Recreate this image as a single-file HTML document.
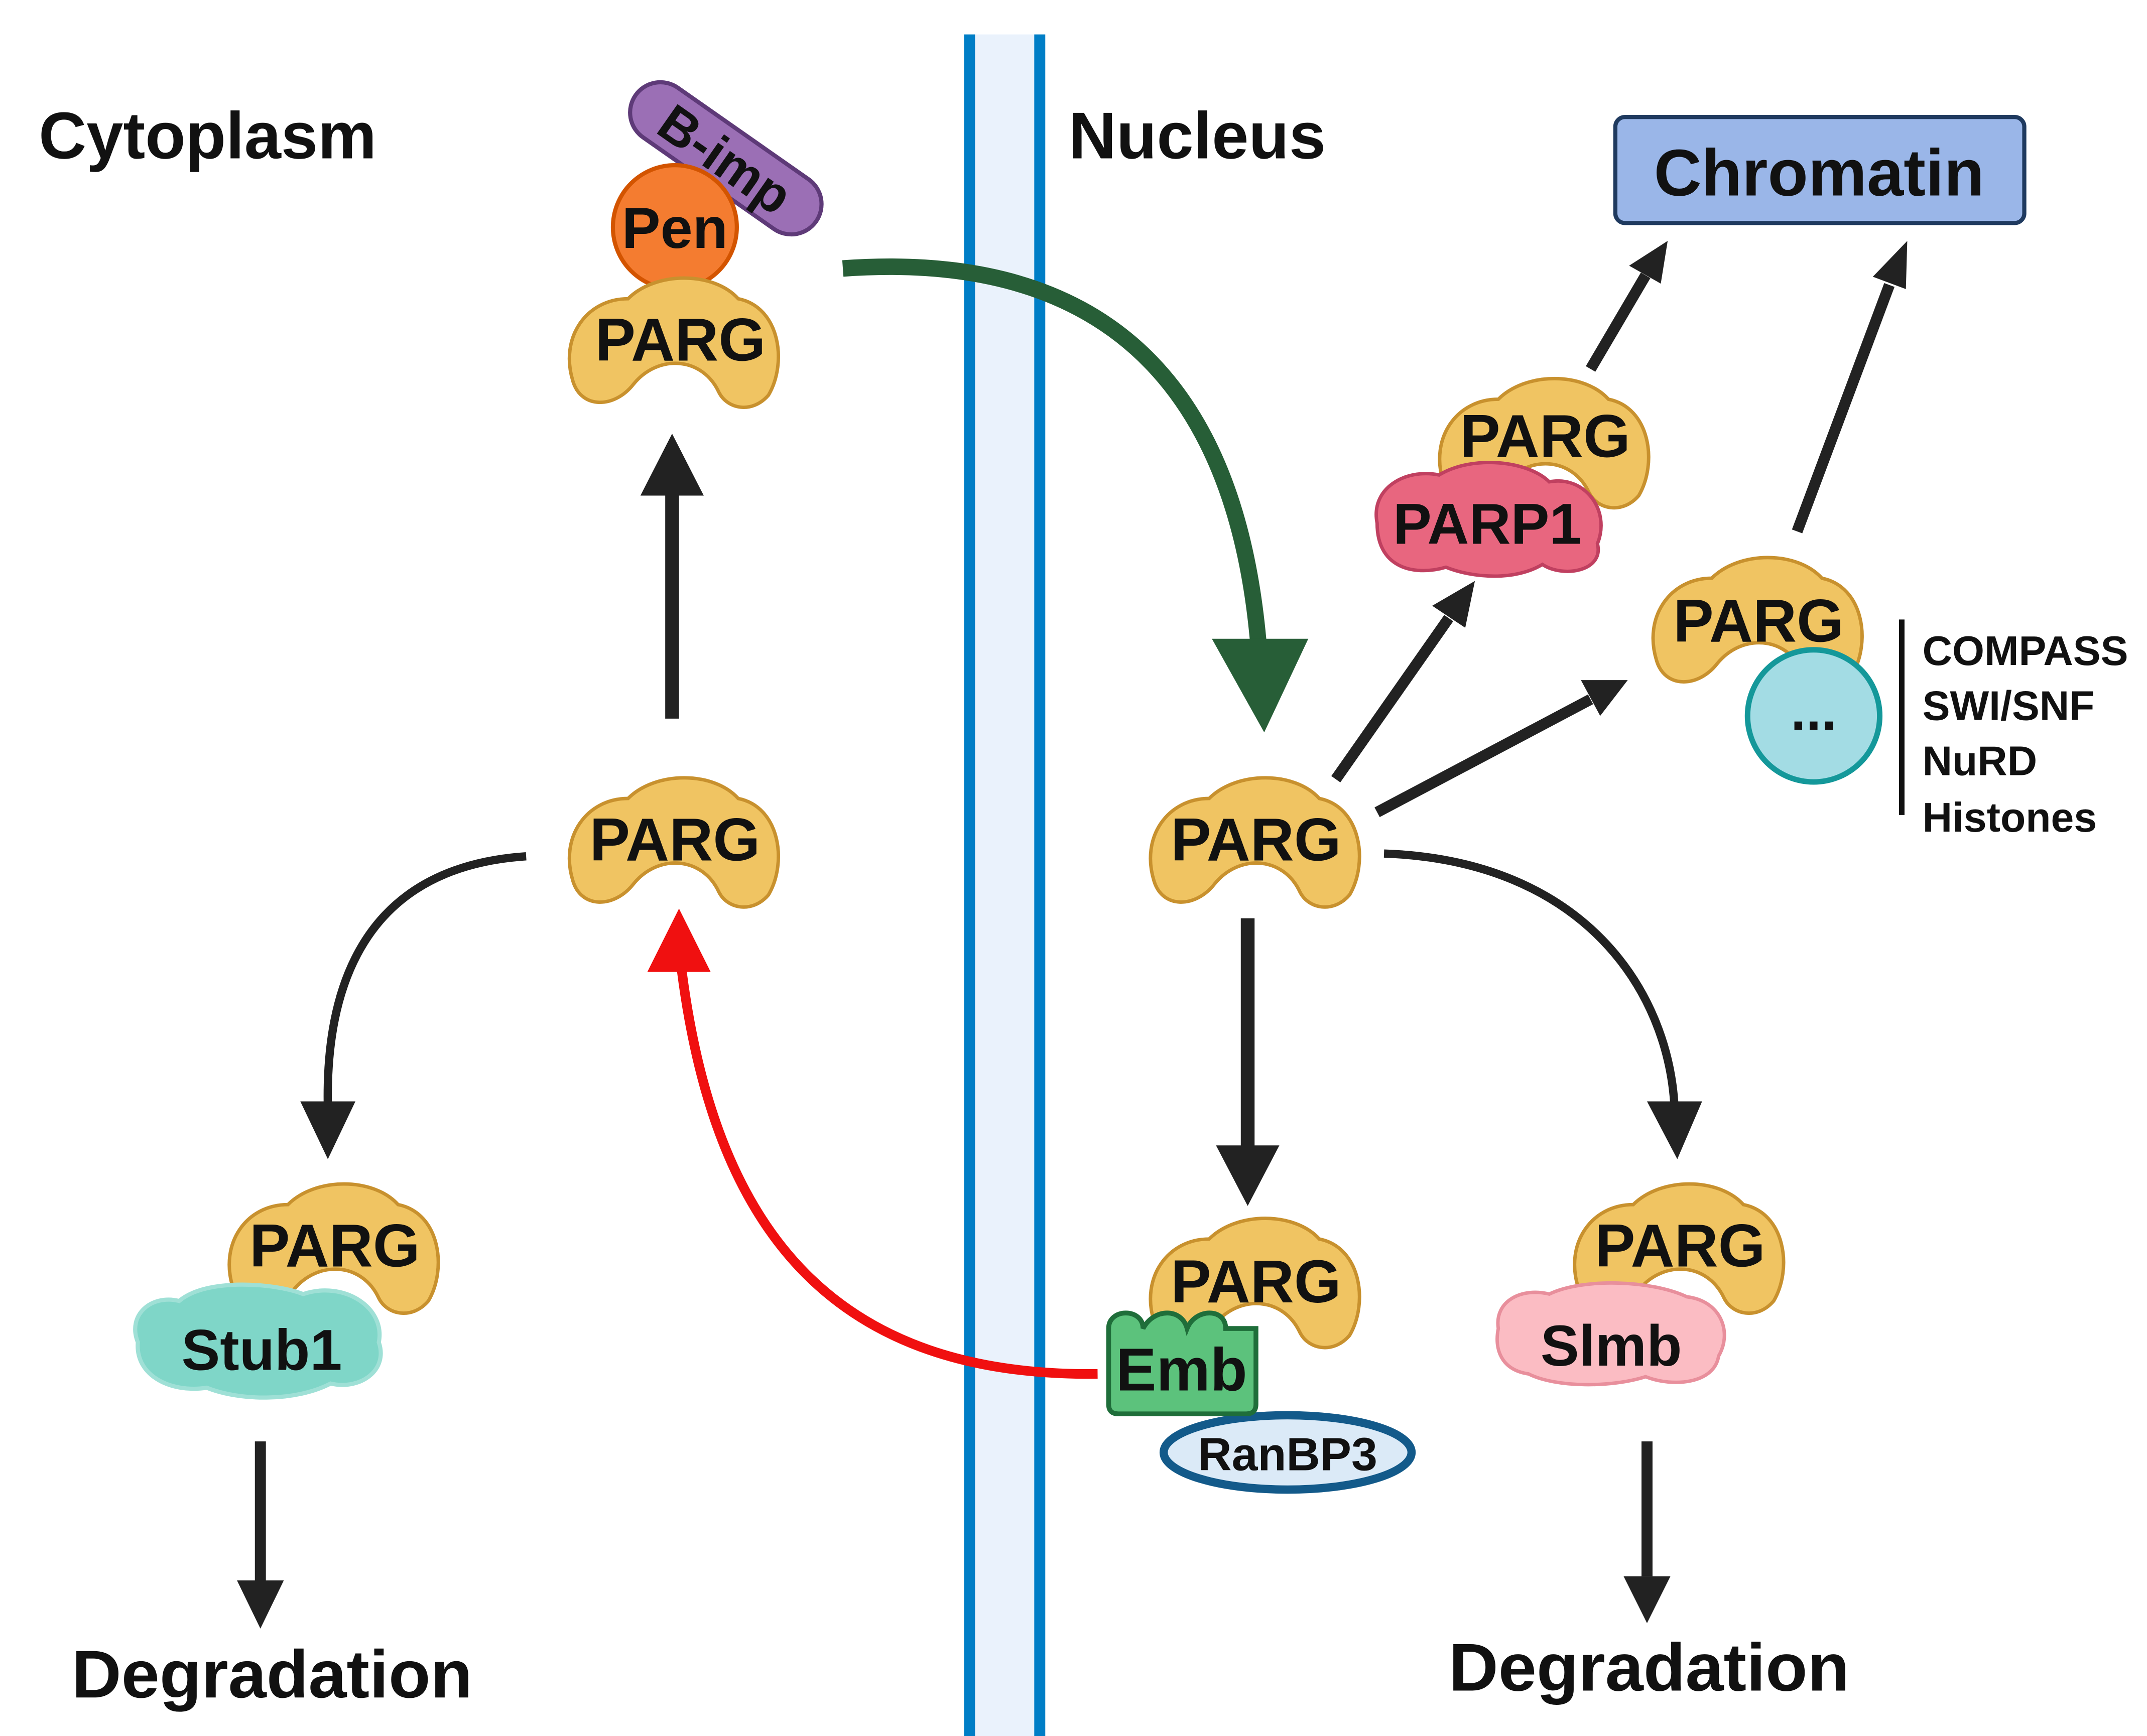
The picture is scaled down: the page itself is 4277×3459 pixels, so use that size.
<!DOCTYPE html>
<html><head><meta charset="utf-8"><style>
html,body{margin:0;padding:0;background:#fff;}
svg{display:block;}
text{font-family:"Liberation Sans",sans-serif;font-weight:bold;fill:#111;}
</style></head><body>
<svg width="4277" height="3459" viewBox="0 0 1559 1261" xmlns="http://www.w3.org/2000/svg">
<defs>
<path id="parg" d="M-72,32 C-82,0 -62,-28 -32,-28 C-12,-48 30,-48 48,-28 C78,-22 84,18 70,42 C58,56 40,52 34,40 C22,14 -10,12 -28,34 C-42,52 -66,52 -72,32 Z"/>
</defs>
<rect x="704" y="25" width="51" height="1236" fill="#eaf2fc"/>
<rect x="700" y="25" width="8" height="1236" fill="#007ec6"/>
<rect x="751" y="25" width="8" height="1236" fill="#007ec6"/>

<text x="28" y="115" font-size="48">Cytoplasm</text>
<text x="776" y="115" font-size="48">Nucleus</text>
<rect x="1173" y="85" width="297" height="77" rx="7" fill="#9ab6e8" stroke="#1f3a5f" stroke-width="3"/>
<text x="1321" y="142" font-size="48" text-anchor="middle">Chromatin</text>

<g transform="translate(527,115) rotate(35)">
<rect x="-80" y="-22" width="160" height="44" rx="22" fill="#9b6fb5" stroke="#5e3a78" stroke-width="3"/>
<text x="0" y="14" font-size="38" text-anchor="middle">B-imp</text>
</g>
<circle cx="490" cy="165" r="45" fill="#f47c30" stroke="#d35400" stroke-width="3"/>
<text x="490" y="180" font-size="42" text-anchor="middle">Pen</text>

<g fill="#222" stroke="#222">
<line x1="488" y1="522" x2="488" y2="355" stroke-width="10"/>
<polygon points="465,360 511,360 488,315" stroke="none"/>
<path d="M382,622 C262,630 236,720 238,805" fill="none" stroke-width="6"/>
<polygon points="218,800 258,800 238,842" stroke="none"/>
<line x1="906" y1="667" x2="906" y2="835" stroke-width="10"/>
<polygon points="883,832 929,832 906,876" stroke="none"/>
<path d="M1005,620 C1150,625 1212,720 1216,805" fill="none" stroke-width="6"/>
<polygon points="1196,800 1236,800 1218,842" stroke="none"/>
<line x1="189" y1="1047" x2="189" y2="1148" stroke-width="8"/>
<polygon points="172,1148 206,1148 189,1183" stroke="none"/>
<line x1="1196" y1="1047" x2="1196" y2="1145" stroke-width="8"/>
<polygon points="1179,1145 1213,1145 1196,1179" stroke="none"/>
<line x1="970" y1="566" x2="1052" y2="449" stroke-width="8"/>
<polygon points="1040,440 1064,456 1071,422" stroke="none"/>
<line x1="1000" y1="590" x2="1155" y2="508" stroke-width="8"/>
<polygon points="1148,494 1162,520 1182,494" stroke="none"/>
<line x1="1155" y1="268" x2="1195" y2="200" stroke-width="8"/>
<polygon points="1183,193 1206,206 1211,175" stroke="none"/>
<line x1="1305" y1="386" x2="1372" y2="207" stroke-width="8"/>
<polygon points="1360,201 1384,210 1385,175" stroke="none"/>
</g>
<path d="M797,998 C610,1000 520,900 495,705" fill="none" stroke="#f01010" stroke-width="7"/>
<polygon points="470,706 516,706 493,660" fill="#f01010"/>
<path d="M612,195 C820,180 900,300 914,470" fill="none" stroke="#275e37" stroke-width="12"/>
<polygon points="880,464 950,464 918,532" fill="#275e37"/>

<g fill="#f0c462" stroke="#c8912e" stroke-width="2.5">
<use href="#parg" transform="translate(488,245)"/>
<use href="#parg" transform="translate(488,608)"/>
<use href="#parg" transform="translate(910,608)"/>
<use href="#parg" transform="translate(1120,318)"/>
<use href="#parg" transform="translate(1275,448)"/>
<use href="#parg" transform="translate(241,903)"/>
<use href="#parg" transform="translate(910,928)"/>
<use href="#parg" transform="translate(1218,903)"/>
</g>
<g font-size="44" text-anchor="middle">
<text x="494" y="262">PARG</text>
<text x="490" y="625">PARG</text>
<text x="912" y="625">PARG</text>
<text x="1122" y="332">PARG</text>
<text x="1277" y="466">PARG</text>
<text x="243" y="920">PARG</text>
<text x="912" y="946">PARG</text>
<text x="1220" y="920">PARG</text>
</g>

<path d="M1000,380 C995,355 1020,340 1045,345 C1070,330 1110,335 1125,350 C1150,345 1170,370 1160,395 C1165,415 1135,420 1120,410 C1100,422 1070,420 1050,412 C1030,418 1000,415 1000,380 Z" fill="#e8667f" stroke="#c04060" stroke-width="2.5"/>
<text x="1080" y="395" font-size="42" text-anchor="middle">PARP1</text>

<circle cx="1317" cy="520" r="48" fill="#a3dce4" stroke="#14989a" stroke-width="4"/>
<text x="1317" y="530" font-size="40" text-anchor="middle">...</text>
<rect x="1379" y="450" width="4" height="142" fill="#111"/>
<g font-size="30">
<text x="1396" y="483">COMPASS</text>
<text x="1396" y="523">SWI/SNF</text>
<text x="1396" y="563">NuRD</text>
<text x="1396" y="604">Histones</text>
</g>

<path d="M100,975 C92,955 110,940 130,945 C150,928 200,932 220,940 C250,930 280,950 275,975 C282,995 262,1010 240,1005 C215,1018 175,1018 150,1008 C125,1012 98,1000 100,975 Z" fill="#7fd6c8" stroke="#9fe0d6" stroke-width="3"/>
<text x="190" y="995" font-size="42" text-anchor="middle">Stub1</text>

<path d="M1088,965 C1085,945 1105,935 1125,940 C1150,928 1200,930 1225,942 C1250,945 1258,968 1248,985 C1245,1005 1215,1008 1195,1000 C1170,1008 1130,1008 1110,998 C1090,995 1085,980 1088,965 Z" fill="#fbbcc3" stroke="#e88f9c" stroke-width="2.5"/>
<text x="1170" y="992" font-size="42" text-anchor="middle">Slmb</text>

<ellipse cx="935" cy="1055" rx="90" ry="27" fill="#dbeaf7" stroke="#135a8a" stroke-width="6"/>
<text x="935" y="1068" font-size="34" text-anchor="middle">RanBP3</text>
<path d="M805,965 C805,950 830,950 830,965 C838,950 858,950 862,965 C868,950 890,950 890,965 L912,965 L912,1020 Q912,1027 905,1027 L812,1027 Q805,1027 805,1020 Z" fill="#5cc27c" stroke="#1f6e3a" stroke-width="3.5"/>
<text x="858" y="1010" font-size="44" text-anchor="middle">Emb</text>

<text x="52" y="1233" font-size="49" textLength="291" lengthAdjust="spacingAndGlyphs">Degradation</text>
<text x="1052" y="1228" font-size="49" textLength="291" lengthAdjust="spacingAndGlyphs">Degradation</text>
</svg>
</body></html>
